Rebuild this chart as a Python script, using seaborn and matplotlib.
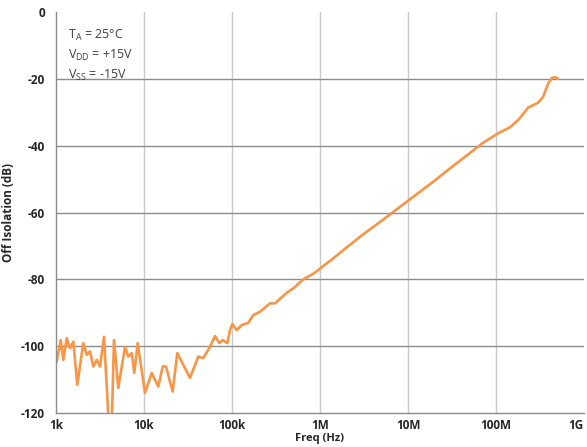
import matplotlib
matplotlib.use("Agg")
import matplotlib.pyplot as plt
import seaborn as sns
import pandas as pd

freq_hz = [1000, 1018, 1131, 1210, 1324, 1443, 1573, 1746, 2043, 2233, 2434, 2653, 2900,
           3162, 3510, 3930, 4295, 4560, 5105, 6083, 6634, 7250, 7762, 8475, 10260, 12230,
           14540, 16310, 17780, 21180, 23880, 27970, 33340, 41400, 47200, 56230, 64120,
           71780, 78400, 88450, 94900, 100800, 113100, 128800, 153100, 174500, 208000,
           270300, 308100, 418500, 497800, 646100, 877000, 1.045e6, 1.416e6, 2e6, 3e6,
           5e6, 1e7, 2e7, 3e7, 5e7, 7e7, 8.55e7, 1.062e8, 1.443e8, 1.792e8, 2.326e8,
           3.025e8, 3.447e8, 3.93e8, 4.293e8, 4.677e8, 5.1e8]
isolation_db = [-105, -104.6, -98.2, -104.1, -97.6, -100.6, -98.7, -111.6, -99.1, -102.6,
                -101.6, -106.1, -104.1, -106.1, -97.2, -120.5, -124, -98.2, -112.5, -100.2,
                -103.1, -102.1, -108, -99.1, -114, -108, -112.1, -106.1, -106.1, -113.6,
                -102.1, -105.6, -109.5, -103.1, -103.6, -100.2, -97, -99.1, -98.2, -99.1,
                -95.2, -93.4, -95.2, -93.7, -93, -90.7, -89.7, -87.2, -87.2, -84, -82.7,
                -80, -78, -76.4, -73.7, -70.5, -66.8, -62.5, -56.5, -50.5, -46.8, -42.3,
                -39.3, -37.8, -36.3, -34.5, -32.3, -28.6, -27.1, -25.3, -21.3, -19.8,
                -19.5, -20]

x_ticks = [1e3, 1e4, 1e5, 1e6, 1e7, 1e8, 1e9]
x_tick_labels = ["1k", "10k", "100k", "1M", "10M", "100M", "1G"]
y_ticks = [0, -20, -40, -60, -80, -100, -120]
y_tick_labels = ["0", "-20", "-40", "-60", "-80", "-100", "-120"]

sns.set_style("white")
plt.rcParams["font.family"] = ["Open Sans", "DejaVu Sans"]

df = pd.DataFrame({"freq": freq_hz, "db": isolation_db})

fig = plt.figure(figsize=(5.87, 4.47), dpi=100)
ax = fig.add_axes([56 / 587, 1 - 413 / 447, 528 / 587, 401 / 447])

sns.lineplot(data=df, x="freq", y="db", ax=ax, color="#F79646", linewidth=1.9,
             estimator=None, sort=False)

ax.set_xscale("log")
ax.set_xlim(1e3, 1e9)
ax.set_ylim(-120, 0)

ax.set_xticks(x_ticks)
ax.set_xticklabels(x_tick_labels)
ax.set_yticks(y_ticks)
ax.set_yticklabels(y_tick_labels)
ax.minorticks_off()
ax.tick_params(axis="y", length=0, labelsize=8.5, pad=8)
ax.tick_params(axis="x", length=0, labelsize=8.5, pad=4)
for lab in ax.get_xticklabels() + ax.get_yticklabels():
    lab.set_fontweight("bold")
ax.get_xticklabels()[-1].set_horizontalalignment("right")

for x in x_ticks[1:-1]:
    ax.axvline(x, color="#C8C8C8", linewidth=1.0, zorder=0)
for y in y_ticks[1:-1]:
    ax.axhline(y, color="#8C8C8C", linewidth=1.0, zorder=0)

for side in ["top", "right"]:
    ax.spines[side].set_visible(False)
for side in ["left", "bottom"]:
    ax.spines[side].set_color("#8C8C8C")
    ax.spines[side].set_linewidth(1.0)

ax.set_xlabel("Freq (Hz)", fontsize=8, fontweight="bold", labelpad=1)
ax.set_ylabel("Off Isolation (dB)", fontsize=8.5, fontweight="bold", labelpad=4)

ax.text(0.022, 0.96, r"T$_\mathregular{A}$ = 25°C", transform=ax.transAxes,
        fontsize=9, color="#404040", va="top")
ax.text(0.022, 0.91, r"V$_\mathregular{DD}$ = +15V", transform=ax.transAxes,
        fontsize=9, color="#404040", va="top")
ax.text(0.022, 0.86, r"V$_\mathregular{SS}$ = -15V", transform=ax.transAxes,
        fontsize=9, color="#404040", va="top")

fig.savefig("out.png", dpi=100)
